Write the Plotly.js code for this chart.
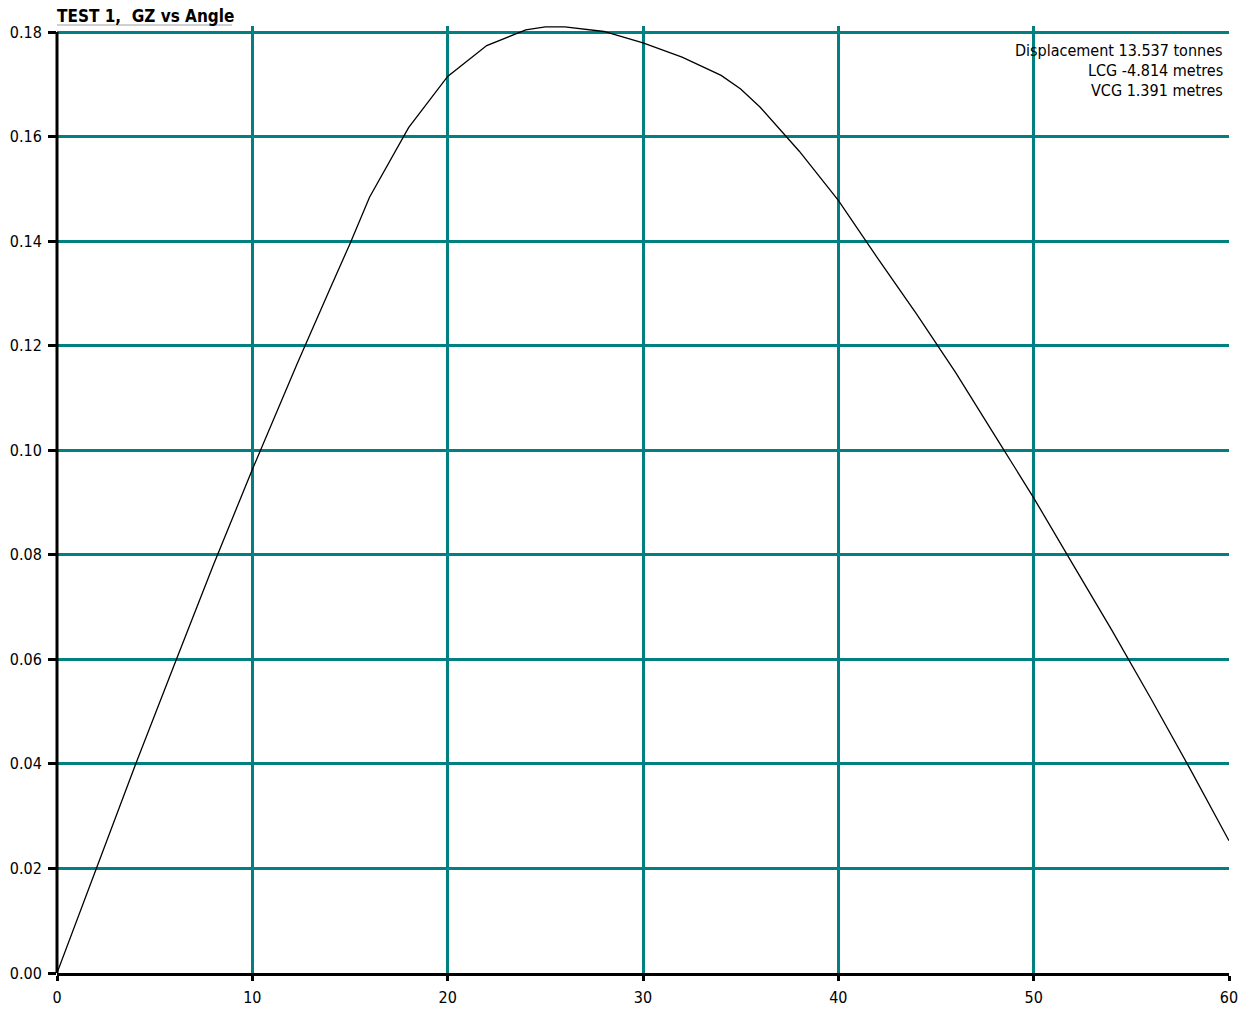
<!DOCTYPE html>
<html>
<head>
<meta charset="utf-8">
<script src="https://cdn.plot.ly/plotly-3.0.1.min.js"></script>
<style>
  html, body { margin: 0; padding: 0; background: #fff; }
  #chart { width: 1251px; height: 1010px; }
</style>
</head>
<body>
<div id="chart"></div>
<script>
// Heel angle (degrees)
const angle = [0, 2, 4, 6, 8, 10, 12.3, 14, 15, 16, 18, 20, 22, 24, 25, 26, 28, 30, 32, 34, 35, 36, 38, 40, 42, 44, 46, 48, 50, 52, 54, 56, 58, 60];
// Righting lever GZ (metres)
const gz = [0, 0.0199, 0.0397, 0.0589, 0.0780, 0.0963, 0.1166, 0.1311, 0.1395, 0.1484, 0.1617, 0.1715, 0.1774, 0.1804, 0.1810, 0.1810, 0.1801, 0.1779, 0.1752, 0.1717, 0.1691, 0.1656, 0.1572, 0.1478, 0.1368, 0.1261, 0.1149, 0.1029, 0.0909, 0.0782, 0.0656, 0.0525, 0.0391, 0.0253];

const titleText = 'TEST 1,\u00a0 GZ vs Angle';
const infoLines = ['Displacement 13.537 tonnes', 'LCG -4.814 metres', 'VCG 1.391 metres'];
const xTicks = [0, 10, 20, 30, 40, 50, 60];
const yTicks = [0, 0.02, 0.04, 0.06, 0.08, 0.10, 0.12, 0.14, 0.16, 0.18];

const FONT = 'DejaVu Sans Condensed, DejaVu Sans, sans-serif';
const TEAL = '#008080';

const trace = {
  x: angle,
  y: gz,
  type: 'scatter',
  mode: 'lines',
  line: { color: '#000', width: 1.3 },
  hoverinfo: 'x+y',
  showlegend: false
};

const infoY = [0.9741, 0.9529, 0.9317];
const annotations = infoLines.map((t, i) => ({
  text: t,
  xref: 'paper', yref: 'paper',
  x: 0.9966, y: infoY[i],
  xanchor: 'right', yanchor: 'middle',
  showarrow: false,
  font: { family: FONT, size: 16, color: '#000' }
}));

const layout = {
  width: 1251,
  height: 1010,
  margin: { l: 57, r: 22, t: 26, b: 37, pad: 0 },
  paper_bgcolor: '#fff',
  plot_bgcolor: '#fff',
  font: { family: FONT, size: 16, color: '#000' },
  title: {
    text: '<b>' + titleText + '</b>',
    font: { family: FONT, size: 17, color: '#000' },
    xref: 'container', yref: 'container',
    x: 57 / 1251, xanchor: 'left',
    y: 1 - 16.5 / 1010, yanchor: 'middle'
  },
  xaxis: {
    range: [0, 60],
    tickmode: 'array',
    tickvals: xTicks,
    ticktext: xTicks.map(String),
    showgrid: true,
    gridcolor: TEAL,
    gridwidth: 2.5,
    zeroline: false,
    showline: true,
    linecolor: '#000',
    linewidth: 3,
    ticks: 'outside',
    ticklen: 5,
    tickwidth: 3,
    tickcolor: '#000',
    ticklabelstandoff: 3,
    tickfont: { family: FONT, size: 16, color: '#000' },
    fixedrange: true
  },
  yaxis: {
    range: [0, 0.18115],
    tickmode: 'array',
    tickvals: yTicks,
    ticktext: yTicks.map(v => v.toFixed(2)),
    showgrid: true,
    gridcolor: TEAL,
    gridwidth: 2.5,
    zeroline: false,
    showline: false,
    ticks: 'outside',
    ticklen: 8,
    tickwidth: 3,
    tickcolor: '#000',
    ticklabelstandoff: 3,
    tickfont: { family: FONT, size: 16, color: '#000' },
    fixedrange: true
  },
  shapes: [
    {
      type: 'line', xref: 'paper', yref: 'y',
      x0: 0, x1: 0, y0: 0, y1: yTicks[yTicks.length - 1],
      line: { color: '#000', width: 3 }, layer: 'above'
    },
    {
      type: 'line', xref: 'paper', yref: 'paper',
      x0: 0, x1: (232 - 57) / 1172, y0: (973 - 25) / 947, y1: (973 - 25) / 947,
      line: { color: '#a0a0a0', width: 1 }, layer: 'above'
    }
  ],
  annotations: annotations
};

Plotly.newPlot('chart', [trace], layout, { displayModeBar: false, staticPlot: false });
</script>
</body>
</html>
